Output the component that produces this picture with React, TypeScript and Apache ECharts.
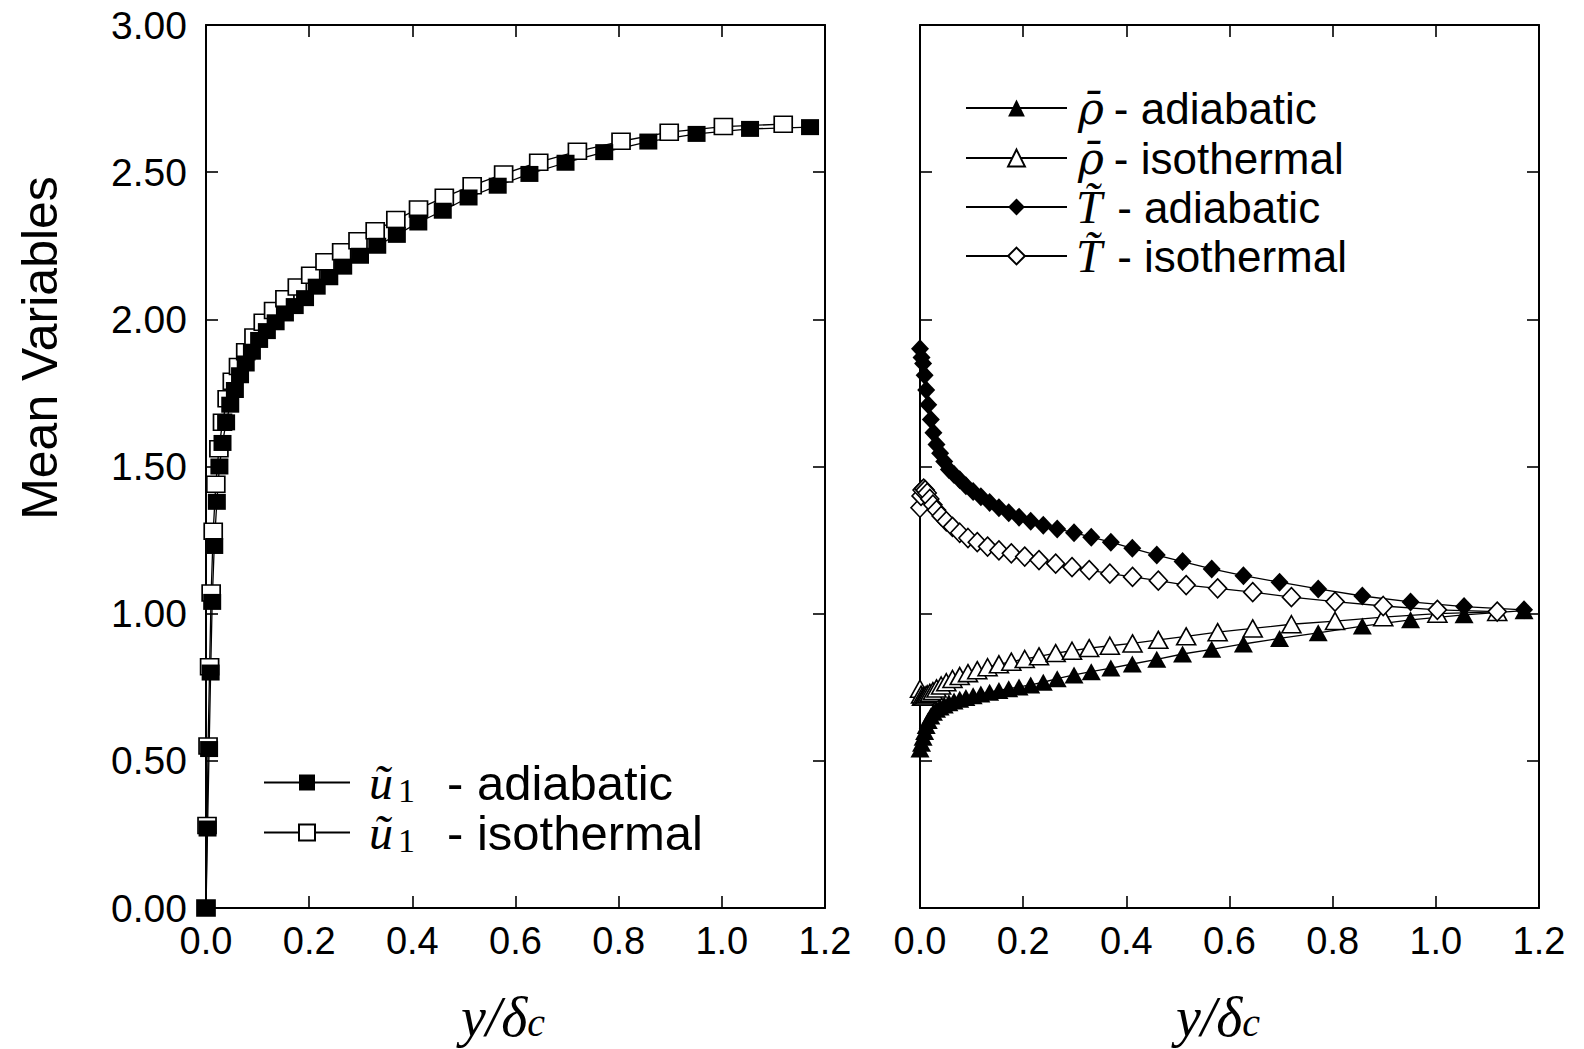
import React, { useEffect, useRef } from "react";
import * as echarts from "echarts";

// y/δc positions (adiabatic run, shared by ũ1, ρ̄, T̃)
const yAdiabatic = [0, 0.003, 0.006, 0.009, 0.012, 0.016, 0.021, 0.026, 0.032, 0.039, 0.047, 0.056, 0.066, 0.077, 0.089, 0.103, 0.118, 0.135, 0.153, 0.172, 0.192, 0.2146, 0.239, 0.266, 0.2986, 0.332, 0.37, 0.4116, 0.459, 0.509, 0.5655, 0.627, 0.697, 0.772, 0.8575, 0.951, 1.0547, 1.171];
// y/δc positions (isothermal run)
const yIsothermal = [0, 0.002, 0.004, 0.007, 0.01, 0.014, 0.019, 0.025, 0.032, 0.041, 0.051, 0.063, 0.077, 0.093, 0.111, 0.131, 0.153, 0.177, 0.203, 0.2307, 0.263, 0.2947, 0.328, 0.368, 0.412, 0.462, 0.516, 0.577, 0.645, 0.72, 0.8046, 0.898, 1.003, 1.119];

const uAdiabatic = [0, 0.27, 0.54, 0.8, 1.04, 1.23, 1.38, 1.5, 1.58, 1.65, 1.71, 1.76, 1.81, 1.85, 1.89, 1.93, 1.96, 1.99, 2.02, 2.045, 2.072, 2.111, 2.143, 2.179, 2.216, 2.25, 2.287, 2.329, 2.369, 2.414, 2.454, 2.494, 2.532, 2.568, 2.604, 2.63, 2.647, 2.653];
const uIsothermal = [0, 0.28, 0.55, 0.82, 1.07, 1.28, 1.44, 1.56, 1.65, 1.73, 1.79, 1.84, 1.89, 1.94, 1.99, 2.03, 2.07, 2.11, 2.15, 2.196, 2.23, 2.267, 2.301, 2.339, 2.375, 2.415, 2.454, 2.494, 2.534, 2.571, 2.605, 2.636, 2.655, 2.663];

const rhoAdiabatic = [0.54, 0.56, 0.58, 0.6, 0.62, 0.637, 0.652, 0.665, 0.675, 0.683, 0.69, 0.697, 0.703, 0.709, 0.715, 0.721, 0.727, 0.733, 0.739, 0.745, 0.751, 0.758, 0.767, 0.779, 0.792, 0.803, 0.815, 0.829, 0.845, 0.863, 0.879, 0.897, 0.916, 0.935, 0.958, 0.979, 0.996, 1.01];
const rhoIsothermal = [0.745, 0.725, 0.718, 0.718, 0.722, 0.726, 0.731, 0.737, 0.746, 0.756, 0.767, 0.778, 0.788, 0.798, 0.808, 0.818, 0.828, 0.837, 0.846, 0.855, 0.866, 0.874, 0.883, 0.891, 0.899, 0.911, 0.923, 0.937, 0.95, 0.964, 0.975, 0.988, 1.0, 1.006];

const TAdiabatic = [1.9, 1.87, 1.85, 1.81, 1.76, 1.71, 1.66, 1.615, 1.575, 1.545, 1.517, 1.49, 1.473, 1.455, 1.435, 1.415, 1.397, 1.378, 1.36, 1.343, 1.328, 1.314, 1.3, 1.288, 1.275, 1.26, 1.243, 1.222, 1.199, 1.177, 1.152, 1.129, 1.107, 1.084, 1.06, 1.04, 1.024, 1.013];
const TIsothermal = [1.36, 1.4, 1.42, 1.425, 1.42, 1.41, 1.39, 1.37, 1.352, 1.332, 1.314, 1.295, 1.275, 1.257, 1.243, 1.228, 1.215, 1.205, 1.194, 1.182, 1.17, 1.158, 1.148, 1.136, 1.125, 1.112, 1.097, 1.086, 1.073, 1.056, 1.041, 1.026, 1.013, 1.007];

const xRange = { min: 0, max: 1.2, interval: 0.2 };
const yRange = { min: 0, max: 3, interval: 0.5 };

const names = {
  uAdi: "ũ1 - adiabatic",
  uIso: "ũ1 - isothermal",
  rAdi: "ρ̄ - adiabatic",
  rIso: "ρ̄ - isothermal",
  tAdi: "T̃ - adiabatic",
  tIso: "T̃ - isothermal",
};

const legendText: Record<string, string> = {
  [names.uAdi]: "{m|ũ}{s|1}{t|- adiabatic}",
  [names.uIso]: "{m|ũ}{s|1}{t|- isothermal}",
  [names.rAdi]: "{g|ρ̄}{t|- adiabatic}",
  [names.rIso]: "{g|ρ̄}{t|- isothermal}",
  [names.tAdi]: "{m|T̃}{u|- adiabatic}",
  [names.tIso]: "{m|T̃}{u|- isothermal}",
};

const SANS = "'Liberation Sans', Arial, Helvetica, sans-serif";
const SERIF = "'Liberation Serif', 'Times New Roman', serif";
const GREEK = "'DejaVu Serif', serif";

const zip = (xs: number[], ys: number[]) => xs.map((x, i) => [x, ys[i]]);

export default function App() {
  const ref = useRef<HTMLDivElement>(null);

  useEffect(() => {
    document.body.style.margin = "0";
    const chart = echarts.init(ref.current as HTMLDivElement, null, { renderer: "svg" });

    const axisLine = { show: true, onZero: false, lineStyle: { color: "#000", width: 2 } };
    const axisTick = { show: true, inside: true, length: 12, lineStyle: { color: "#000", width: 1.6 } };

    const xAxis = (gridIndex: number, position: string, showLabel: boolean) => ({
      type: "value",
      gridIndex,
      position,
      ...xRange,
      axisLine,
      axisTick,
      splitLine: { show: false },
      axisLabel: {
        show: showLabel,
        fontFamily: SANS,
        fontSize: 38,
        color: "#000",
        margin: 14,
        formatter: (v: number) => v.toFixed(1),
      },
    });
    const yAxis = (gridIndex: number, position: string, showLabel: boolean) => ({
      type: "value",
      gridIndex,
      position,
      ...yRange,
      axisLine,
      axisTick,
      splitLine: { show: false },
      axisLabel: {
        show: showLabel,
        fontFamily: SANS,
        fontSize: 39,
        color: "#000",
        margin: 19,
        formatter: (v: number) => v.toFixed(2),
      },
    });

    const base = {
      type: "line",
      showSymbol: true,
      showAllSymbol: true,
      clip: false,
      emphasis: { disabled: true },
      lineStyle: { color: "#000", width: 1.3 },
    };
    const filled = { itemStyle: { color: "#000", borderColor: "#000", borderWidth: 0 } };
    const open = { itemStyle: { color: "#fff", borderColor: "#000", borderWidth: 1.6 } };

    const leftRich = {
      m: { fontFamily: SERIF, fontStyle: "italic", fontSize: 48, lineHeight: 50, padding: [0, 0, 0, 14], color: "#000" },
      s: { fontFamily: SERIF, fontSize: 34, lineHeight: 34, verticalAlign: "bottom", padding: [0, 0, 0, 5], color: "#000" },
      t: { fontFamily: SANS, fontSize: 49, lineHeight: 50, padding: [0, 0, 0, 32], color: "#000" },
    };
    const rightRich = {
      g: { fontFamily: GREEK, fontStyle: "italic", fontSize: 44, lineHeight: 49, padding: [0, 0, 0, 6], color: "#000" },
      m: { fontFamily: SERIF, fontStyle: "italic", fontSize: 47, lineHeight: 49, padding: [0, 0, 0, 4], color: "#000" },
      t: { fontFamily: SANS, fontSize: 44, lineHeight: 49, padding: [0, 0, 0, 10], color: "#000" },
      u: { fontFamily: SANS, fontSize: 44, lineHeight: 49, padding: [0, 0, 0, 15], color: "#000" },
    };

    const legendItem = (name: string, left: number, top: number, itemWidth: number, itemHeight: number, rich: any) => ({
      data: [name],
      orient: "vertical",
      left,
      top,
      padding: 0,
      itemGap: 0,
      itemWidth,
      itemHeight,
      selectedMode: false,
      formatter: (n: string) => legendText[n],
      textStyle: { color: "#000", rich },
    });

    const xTitle = (x: number) => ({
      type: "text",
      x,
      y: 1017,
      style: {
        text: "{a|y/δ}{b|c}",
        align: "center",
        verticalAlign: "middle",
        rich: {
          a: { fontFamily: SERIF, fontStyle: "italic", fontSize: 56, lineHeight: 50, fill: "#000", color: "#000" },
          b: { fontFamily: SERIF, fontStyle: "italic", fontSize: 40, lineHeight: 32, verticalAlign: "bottom", fill: "#000", color: "#000" },
        },
      },
    });

    const option: any = {
      animation: false,
      backgroundColor: "#fff",
      grid: [
        { left: 206, top: 25, width: 619, height: 883, outerBoundsMode: "none", containLabel: false },
        { left: 920, top: 25, width: 619, height: 883, outerBoundsMode: "none", containLabel: false },
      ],
      xAxis: [xAxis(0, "bottom", true), xAxis(0, "top", false), xAxis(1, "bottom", true), xAxis(1, "top", false)],
      yAxis: [yAxis(0, "left", true), yAxis(0, "right", false), yAxis(1, "left", false), yAxis(1, "right", false)],
      legend: [
        legendItem(names.uAdi, 263, 758, 86, 20, leftRich),
        legendItem(names.uIso, 263, 808, 86, 20, leftRich),
        legendItem(names.rAdi, 965, 86, 101, 21, rightRich),
        legendItem(names.rIso, 965, 136, 101, 21, rightRich),
        legendItem(names.tAdi, 965, 183.5, 101, 21, rightRich),
        legendItem(names.tIso, 965, 232.5, 101, 21, rightRich),
      ],
      graphic: [
        {
          type: "text",
          x: 40,
          y: 348,
          rotation: Math.PI / 2,
          style: { text: "Mean Variables", fontFamily: SANS, fontSize: 50, fill: "#000", align: "center", verticalAlign: "middle" },
        },
        xTitle(503),
        xTitle(1218),
      ],
      series: [
        { ...base, ...open, name: names.uIso, xAxisIndex: 0, yAxisIndex: 0, symbol: "rect", symbolSize: [18, 16], data: zip(yIsothermal, uIsothermal) },
        { ...base, ...filled, name: names.uAdi, xAxisIndex: 0, yAxisIndex: 0, symbol: "rect", symbolSize: [18, 16], data: zip(yAdiabatic, uAdiabatic) },
        { ...base, ...open, name: names.rIso, xAxisIndex: 2, yAxisIndex: 2, symbol: "triangle", symbolSize: [19, 17], data: zip(yIsothermal, rhoIsothermal) },
        { ...base, ...open, name: names.tIso, xAxisIndex: 2, yAxisIndex: 2, symbol: "diamond", symbolSize: [18, 19], data: zip(yIsothermal, TIsothermal) },
        { ...base, ...filled, name: names.rAdi, xAxisIndex: 2, yAxisIndex: 2, symbol: "triangle", symbolSize: [19, 17], data: zip(yAdiabatic, rhoAdiabatic) },
        { ...base, ...filled, name: names.tAdi, xAxisIndex: 2, yAxisIndex: 2, symbol: "diamond", symbolSize: [18, 19], data: zip(yAdiabatic, TAdiabatic) },
      ],
    };

    chart.setOption(option);
    return () => chart.dispose();
  }, []);

  return (
    <div
      ref={ref}
      style={{ position: "absolute", left: 0, top: 0, width: 1584, height: 1049, background: "#fff" }}
    />
  );
}
